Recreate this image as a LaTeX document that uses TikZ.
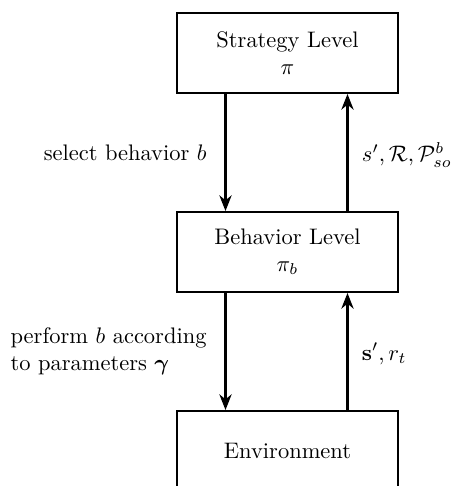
\documentclass[tikz,border=0pt]{standalone}
\usepackage{amsmath}
\usetikzlibrary{arrows.meta,calc}
\begin{document}
\begin{tikzpicture}[x=0.445pt,y=-0.445pt,
  levelbox/.style={draw,line width=0.9pt,minimum width=221*0.445pt,minimum height=80*0.445pt,align=center,inner sep=0pt},
  flow/.style={line width=0.9pt,-{Stealth[length=7pt,width=5.5pt]}},
  lbl/.style={inner sep=0pt}]
\useasboundingbox (0,0) rectangle (451,486);
\clip (0,0) rectangle (451,486);
\node[levelbox] (s) at (287.5,53) {Strategy Level\\$\pi$};
\node[levelbox] (b) at (287.5,252) {Behavior Level\\$\pi_b$};
\node[levelbox] (e) at (287.5,451) {Environment};
\draw[flow] ($(s.south west)!0.222!(s.south east)$) -- node[lbl,left=8pt] {select behavior $b$} ($(b.north west)!0.222!(b.north east)$);
\draw[flow] ($(b.north west)!0.769!(b.north east)$) -- node[lbl,right=6pt,yshift=-1pt] {$s',\mathcal{R},\mathcal{P}^b_{so}$} ($(s.south west)!0.769!(s.south east)$);
\draw[flow] ($(b.south west)!0.222!(b.south east)$) -- node[lbl,left=8pt,align=left] {perform $b$ according\\to parameters $\boldsymbol{\gamma}$} ($(e.north west)!0.222!(e.north east)$);
\draw[flow] ($(e.north west)!0.769!(e.north east)$) -- node[lbl,right=6pt,yshift=-1pt] {$\mathbf{s}',r_t$} ($(b.south west)!0.769!(b.south east)$);
\end{tikzpicture}
\end{document}
